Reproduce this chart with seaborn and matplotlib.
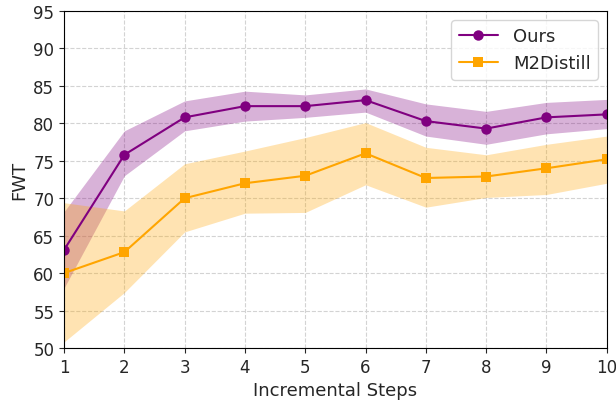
import numpy as np
import pandas as pd
import matplotlib
matplotlib.use("Agg")
import matplotlib.pyplot as plt
import seaborn as sns

# Données
steps = [1, 2, 3, 4, 5, 6, 7, 8, 9, 10]
ours_mean = [63.1, 75.8, 80.8, 82.3, 82.3, 83.1, 80.3, 79.3, 80.8, 81.2]
ours_low = [58.0, 73.0, 79.0, 80.3, 80.8, 81.5, 78.3, 77.2, 78.6, 79.3]
ours_high = [68.2, 79.0, 83.0, 84.3, 83.8, 84.6, 82.6, 81.6, 82.8, 83.2]
m2_mean = [60.0, 62.8, 70.0, 72.0, 73.0, 76.0, 72.7, 72.9, 74.0, 75.2]
m2_low = [50.8, 57.4, 65.5, 68.0, 68.1, 71.8, 68.8, 70.1, 70.5, 72.0]
m2_high = [69.4, 68.3, 74.6, 76.3, 78.1, 80.1, 76.8, 75.8, 77.2, 78.3]

df = pd.DataFrame({
    "step": steps * 2,
    "FWT": ours_mean + m2_mean,
    "method": ["Ours"] * 10 + ["M2Distill"] * 10,
})

sns.set_style("ticks")
plt.rcParams["font.family"] = ["DejaVu Sans"]

fig, ax = plt.subplots(figsize=(6.16, 4.02), dpi=100)

colors = {"Ours": "purple", "M2Distill": "orange"}
ax.fill_between(steps, ours_low, ours_high, color="purple", alpha=0.3, linewidth=0)
ax.fill_between(steps, m2_low, m2_high, color="orange", alpha=0.3, linewidth=0)

sns.lineplot(data=df, x="step", y="FWT", hue="method", style="method",
             palette=colors, markers={"Ours": "o", "M2Distill": "s"},
             dashes=False, markersize=7.5, markeredgewidth=0, linewidth=1.5, ax=ax)

ax.set_xlim(1, 10)
ax.set_ylim(50, 95)
ax.set_xticks(steps)
ax.set_yticks(np.arange(50, 96, 5))
ax.tick_params(labelsize=12)
ax.set_xlabel("Incremental Steps", fontsize=13)
ax.set_ylabel("FWT", fontsize=13)
ax.grid(True, linestyle="--", color="lightgray", linewidth=0.8)
for s in ax.spines.values():
    s.set_color("black")
    s.set_visible(True)

ax.legend(loc="upper right", fontsize=13, title=None, handlelength=2.2)

fig.subplots_adjust(left=0.104, right=0.985, top=0.970, bottom=0.132)
plt.savefig("out.png", dpi=100)
plt.close()
